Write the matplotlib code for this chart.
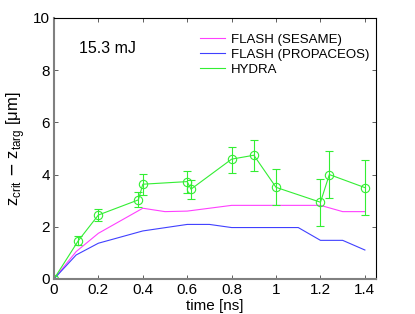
import matplotlib
matplotlib.use("Agg")
import matplotlib.pyplot as plt

plt.rcParams['font.family'] = ['Liberation Sans', 'DejaVu Sans']

# HYDRA data with error bars
hydra_t = [0.0, 0.11, 0.20, 0.38, 0.40, 0.60, 0.617, 0.80, 0.90, 1.00, 1.20, 1.24, 1.40]
hydra_z = [0.0, 1.47, 2.45, 3.03, 3.63, 3.73, 3.44, 4.59, 4.74, 3.51, 2.94, 4.00, 3.50]
hydra_lo = [0.0, 1.30, 2.23, 2.75, 3.22, 3.31, 3.08, 4.07, 4.14, 2.82, 2.03, 3.09, 2.45]
hydra_hi = [0.0, 1.64, 2.67, 3.32, 4.01, 4.15, 3.78, 5.07, 5.34, 4.21, 3.82, 4.92, 4.56]

# FLASH (SESAME)
ses_t = [0.0, 0.1, 0.2, 0.4, 0.5, 0.6, 0.8, 1.2, 1.3, 1.4]
ses_z = [0.0, 1.05, 1.75, 2.71, 2.58, 2.60, 2.82, 2.82, 2.58, 2.58]

# FLASH (PROPACEOS)
pro_t = [0.0, 0.1, 0.2, 0.4, 0.6, 0.7, 0.8, 1.1, 1.2, 1.3, 1.4]
pro_z = [0.0, 0.92, 1.37, 1.84, 2.09, 2.09, 1.97, 1.97, 1.48, 1.48, 1.11]

xticks = [0, 0.2, 0.4, 0.6, 0.8, 1, 1.2, 1.4]
xticklabels = ['0', '0.2', '0.4', '0.6', '0.8', '1', '1.2', '1.4']
yticks = [0, 2, 4, 6, 8, 10]

fig = plt.figure(figsize=(4.15, 3.14), dpi=100)
ax = fig.add_axes([0.130, 0.1115, 0.776, 0.8315])

ax.plot(ses_t, ses_z, color='#ff40ff', lw=0.8, label='FLASH (SESAME)')
ax.plot(pro_t, pro_z, color='#4040ff', lw=0.8, label='FLASH (PROPACEOS)')
yerr = [[z - lo for z, lo in zip(hydra_z, hydra_lo)], [hi - z for z, hi in zip(hydra_z, hydra_hi)]]
ax.errorbar(hydra_t, hydra_z, yerr=yerr, color='#33ee33', lw=0.8, marker='o',
            mfc='none', ms=6, mew=0.8, capsize=3, elinewidth=0.8, capthick=0.8,
            label='HYDRA')

ax.set_xlim(0, 1.45)
ax.set_ylim(0, 10)
ax.set_xticks(xticks)
ax.set_xticklabels(xticklabels)
ax.set_yticks(yticks)
ax.tick_params(direction='in', top=True, right=True, length=3, labelsize=11, pad=3,
               width=0.6, color='#444444')
for s in ['left', 'bottom']:
    ax.spines[s].set_color('#808080')
    ax.spines[s].set_linewidth(1.5)
for s in ['top', 'right']:
    ax.spines[s].set_color('black')
    ax.spines[s].set_linewidth(0.8)

ax.set_xlabel('time [ns]', fontsize=11, labelpad=1)
ax.set_ylabel(r'z$_{\mathregular{crit}}$ $-$ z$_{\mathregular{targ}}$ [μm]', fontsize=12, labelpad=4)

ax.text(0.115, 8.65, '15.3 mJ', fontsize=11.5)

from matplotlib.lines import Line2D
handles = [Line2D([], [], color='#ff40ff', lw=0.8),
           Line2D([], [], color='#4040ff', lw=0.8),
           Line2D([], [], color='#33ee33', lw=0.8)]
ax.legend(handles, ['FLASH (SESAME)', 'FLASH (PROPACEOS)', 'HYDRA'],
          loc='upper right', bbox_to_anchor=(1.005, 0.97), frameon=False,
          fontsize=9.5, handlelength=1.9, handletextpad=0.5, labelspacing=0.2,
          borderaxespad=0.2)

fig.savefig('out.png', dpi=100)
